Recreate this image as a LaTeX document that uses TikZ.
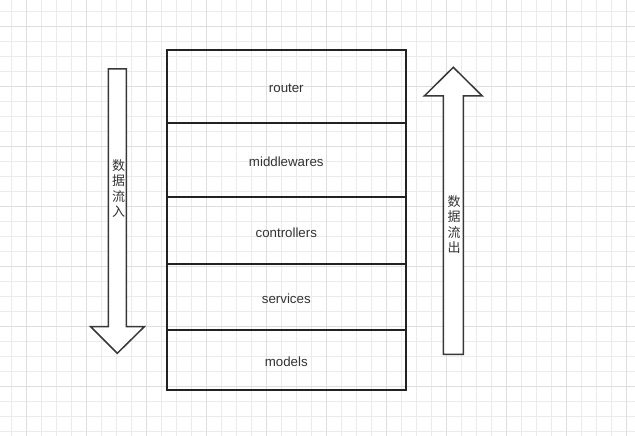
\documentclass[tikz,border=0pt]{standalone}
\usepackage{fontspec}
\setmainfont{Liberation Sans}
\newfontfamily\cjk{Noto Sans CJK SC}
\definecolor{gridminor}{HTML}{EBEBEB}
\definecolor{gridmajor}{HTML}{DEDEDE}
\definecolor{linedark}{HTML}{222222}
\definecolor{textdark}{HTML}{333333}
\begin{document}
\begin{tikzpicture}[x=1pt,y=-1pt]
\tikzset{layer style/.style={shape=rectangle,draw=linedark,line width=1.6pt,minimum width=239pt,inner sep=0pt,text=textdark,font=\fontsize{13.3}{15}\selectfont},
         layer text/.style={text=textdark,inner sep=0pt,font=\fontsize{13.3}{15}\selectfont},
         flow style/.style={draw=linedark!90,line width=1.5pt,fill=white,line join=miter},
         flow text/.style={align=center,text=textdark,inner sep=0pt,font=\cjk\fontsize{13}{15.2}\selectfont}}
\useasboundingbox (0,0) rectangle (635,436);
\fill[white] (0,0) rectangle (635,436);

% grid
\foreach \x in {11.7,26.7,...,635} \draw[gridminor,line width=1pt] (\x,0) -- (\x,436);
\foreach \y in {11.7,26.7,...,436} \draw[gridminor,line width=1pt] (0,\y) -- (635,\y);
\foreach \x in {26.7,86.7,...,635} \draw[gridmajor,line width=1pt] (\x,0) -- (\x,436);
\foreach \y in {26.7,86.7,...,436} \draw[gridmajor,line width=1pt] (0,\y) -- (635,\y);

% layers
\node[layer style, minimum height=73pt] at (286.3, 86.5)   (router)      {};
\node[layer style, minimum height=74pt] at (286.3, 160)    (middlewares) {};
\node[layer style, minimum height=67pt] at (286.3, 230.5)  (controllers) {};
\node[layer style, minimum height=66pt] at (286.3, 297)    (services)    {};
\node[layer style, minimum height=60pt] at (286.3, 360)    (models)      {};

\node[layer text] at (286.3, 88)   (router text)      {router};
\node[layer text] at (286.3, 161.5) (middlewares text) {middlewares};
\node[layer text] at (286.3, 232.5) (controllers text) {controllers};
\node[layer text] at (286.3, 298.5) (services text)    {services};
\node[layer text] at (286.3, 361.5) (models text)      {models};

% arrows
\draw[flow style] (108.3,69) -- (126.3,69) -- (126.3,326.7) -- (144.3,326.7)
      -- (117.3,353.3) -- (90.7,326.7) -- (108.3,326.7) -- cycle;
\draw[flow style] (443.3,354.3) -- (463.3,354.3) -- (463.3,96) -- (482.3,96)
      -- (453.3,67.3) -- (424.3,96) -- (443.3,96) -- cycle;

\node[flow text] at (118.5, 188.5)  (in)  {数\\据\\流\\入};
\node[flow text] at (454, 224.5) (out) {数\\据\\流\\出};
\end{tikzpicture}
\end{document}
